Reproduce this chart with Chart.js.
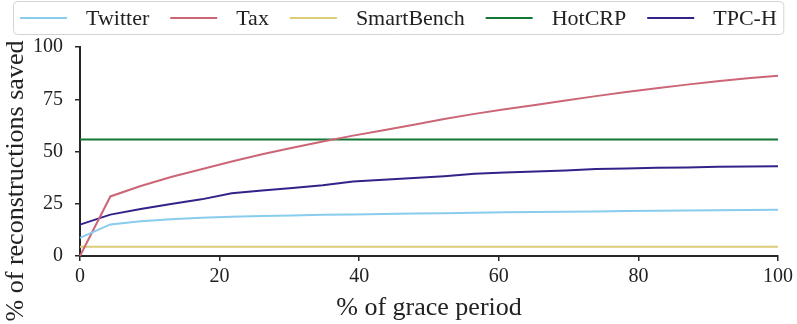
<!DOCTYPE html>
<html>
<head>
<meta charset="utf-8">
<script src="https://cdn.jsdelivr.net/npm/chart.js@4"></script>
<style>
    html, body { margin: 0; padding: 0; background: #fff; }
    #wrap { width: 797px; height: 324px; }
</style>
</head>
<body>
<div id="wrap"><canvas id="chart" width="797" height="324"></canvas></div>
<script>
// grace period samples (% of grace period)
var gracePeriod = [0, 4.35, 8.7, 13.04, 17.39, 21.74, 26.09, 30.43, 34.78, 39.13, 43.48, 47.83,
    52.17, 56.52, 60.87, 65.22, 69.57, 73.91, 78.26, 82.61, 86.96, 91.3, 95.65, 100];

var twitter = [8.7, 15.1, 16.6, 17.6, 18.3, 18.8, 19.1, 19.4, 19.7, 19.9, 20.1, 20.3,
    20.5, 20.7, 20.9, 21.0, 21.2, 21.3, 21.5, 21.6, 21.8, 21.9, 22.0, 22.1];
var tax = [0, 28.5, 33.5, 37.8, 41.5, 45.2, 48.7, 51.8, 54.8, 57.6, 60.2, 62.8,
    65.6, 68.0, 70.2, 72.3, 74.4, 76.5, 78.5, 80.3, 82.0, 83.6, 85.0, 86.3];
var smartBench = [4.4, 4.4, 4.4, 4.4, 4.4, 4.4, 4.4, 4.4, 4.4, 4.4, 4.4, 4.4,
    4.4, 4.4, 4.4, 4.4, 4.4, 4.4, 4.4, 4.4, 4.4, 4.4, 4.4, 4.4];
var hotCRP = [55.8, 55.8, 55.8, 55.8, 55.8, 55.8, 55.8, 55.8, 55.8, 55.8, 55.8, 55.8,
    55.8, 55.8, 55.8, 55.8, 55.8, 55.8, 55.8, 55.8, 55.8, 55.8, 55.8, 55.8];
var tpch = [15.0, 19.8, 22.5, 24.9, 27.1, 30.0, 31.3, 32.5, 33.8, 35.6, 36.5, 37.3,
    38.2, 39.3, 39.9, 40.4, 40.9, 41.6, 41.9, 42.2, 42.4, 42.7, 42.8, 42.9];

var xTicks = [0, 20, 40, 60, 80, 100];
var yTicks = [0, 25, 50, 75, 100];

var seriesNames = ['Twitter', 'Tax', 'SmartBench', 'HotCRP', 'TPC-H'];
var seriesValues = [twitter, tax, smartBench, hotCRP, tpch];
var seriesColors = ['#88CCEE', '#CC6677', '#DDCC77', '#117733', '#332288'];

var yTitle = '% of reconstructions saved';

var FONT = "'Liberation Serif', 'DejaVu Serif', serif";
var AXIS = '#262626';

/**
 * Build the line datasets from the named arrays
 */
function buildDatasets() {
    return seriesNames.map(function(name, i) {
        return {
            label: name,
            data: gracePeriod.map(function(x, j) { return {x: x, y: seriesValues[i][j]}; }),
            borderColor: seriesColors[i],
            backgroundColor: seriesColors[i],
            borderWidth: 2,
            pointRadius: 0,
            tension: 0,
            clip: false
        };
    });
}

/**
 * Legend drawn by hand so it gets the boxed matplotlib look,
 * plus the y title which sits lower than the axis centre
 */
var boxLegend = {
    id: 'boxLegend',
    afterDraw: function(chart) {
        var ctx = chart.ctx;
        var items = chart.data.datasets;
        var x = 20, y = 18, lineLen = 47;
        ctx.save();
        ctx.font = '22px ' + FONT;
        ctx.textBaseline = 'middle';
        var right = x;
        items.forEach(function(ds) {
            ctx.strokeStyle = ds.borderColor;
            ctx.lineWidth = 2;
            ctx.beginPath();
            ctx.moveTo(x, y);
            ctx.lineTo(x + lineLen, y);
            ctx.stroke();
            var tx = x + lineLen + 19;
            ctx.fillStyle = '#222';
            ctx.fillText(ds.label, tx, y + 1);
            right = tx + ctx.measureText(ds.label).width;
            x = right + 21;
        });
        ctx.strokeStyle = '#d4d4d4';
        ctx.lineWidth = 1;
        ctx.beginPath();
        ctx.roundRect(13.5, 1.5, right + 7 - 13.5, 33, 4);
        ctx.stroke();

        // y axis title
        ctx.translate(16, 181);
        ctx.rotate(-Math.PI / 2);
        ctx.font = '26px ' + FONT;
        ctx.textAlign = 'center';
        ctx.fillStyle = '#222';
        ctx.fillText(yTitle, 0, 0);
        ctx.restore();
    }
};

new Chart(document.getElementById('chart'), {
    type: 'line',
    data: { datasets: buildDatasets() },
    plugins: [boxLegend],
    options: {
        responsive: false,
        animation: false,
        layout: { padding: { top: 47, right: 17, left: 0, bottom: 0 } },
        plugins: {
            legend: { display: false },
            tooltip: { enabled: false }
        },
        scales: {
            x: {
                type: 'linear',
                min: 0,
                max: 100,
                afterBuildTicks: function(scale) {
                    scale.ticks = xTicks.map(function(v) { return {value: v}; });
                },
                afterFit: function(scale) { scale.height = 68; },
                grid: { drawOnChartArea: false, drawTicks: true, tickLength: 5, color: AXIS, lineWidth: 1.5 },
                border: { color: AXIS, width: 2 },
                ticks: { color: '#222', font: { family: FONT, size: 20 }, padding: 4, maxRotation: 0 },
                title: {
                    display: true,
                    text: '% of grace period',
                    color: '#222',
                    font: { family: FONT, size: 26 },
                    padding: { top: 0, bottom: 0 }
                }
            },
            y: {
                min: 0,
                max: 100,
                afterBuildTicks: function(scale) {
                    scale.ticks = yTicks.map(function(v) { return {value: v}; });
                },
                afterFit: function(scale) { scale.width = 80; },
                grid: { drawOnChartArea: false, drawTicks: true, tickLength: 5, color: AXIS, lineWidth: 1.5 },
                border: { color: AXIS, width: 2 },
                ticks: { color: '#222', font: { family: FONT, size: 20 }, padding: 12 },
                title: { display: false }
            }
        }
    }
});
</script>
</body>
</html>
